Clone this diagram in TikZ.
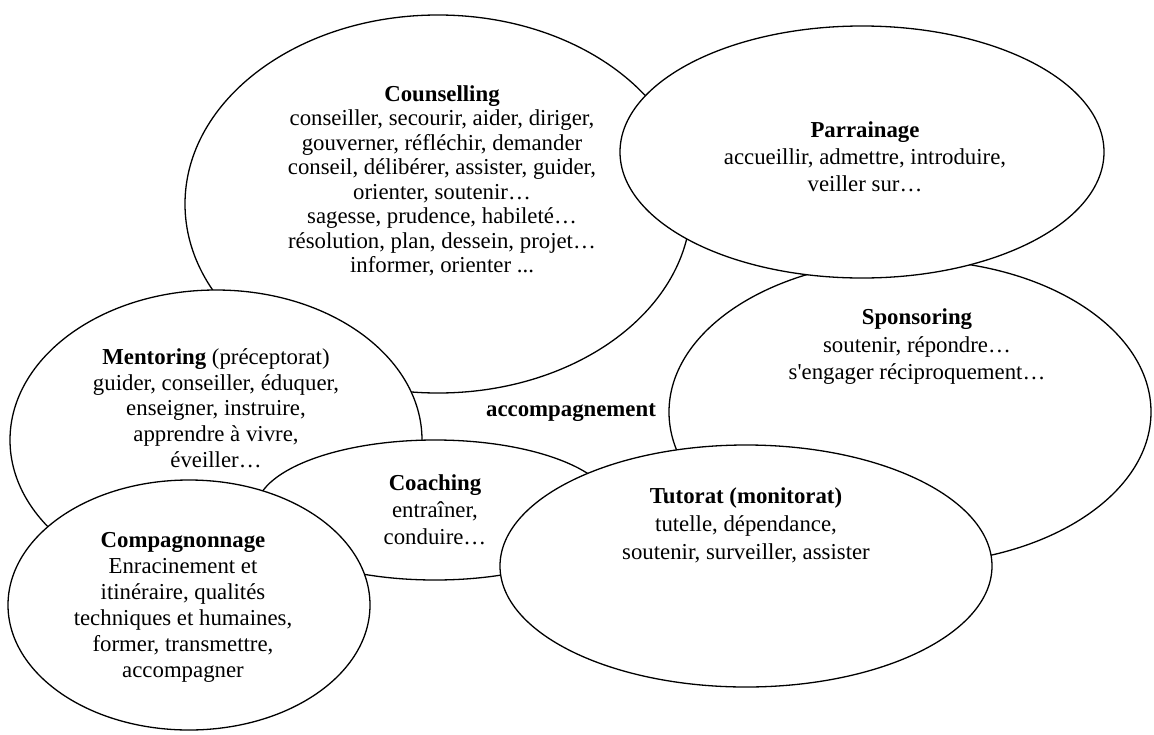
\documentclass[tikz,border=0pt]{standalone}
\usepackage{fontspec}
\setmainfont{Liberation Serif}
\usetikzlibrary{arrows, shapes}
\usetikzlibrary{positioning}

\begin{document}
\begin{tikzpicture}[x=1pt,y=-1pt,thick,main node/.style={ellipse,draw,fill=white,line width=1.3pt,inner sep=0pt},text node/.style={align=center,inner sep=0pt,font=\fontsize{22.8}{26}\selectfont}]
				\useasboundingbox (0,0) rectangle (1154,734);
				% Zonas de arriba
				\node[main node, minimum width=506pt, minimum height=378pt] (counselling) at (438,204) {};
				\node[text node, font=\fontsize{22.8}{24.5}\selectfont] (counselling text) at (442,181) {\textbf{Counselling}\\conseiller, secourir, aider, diriger,\\gouverner, réfléchir, demander\\conseil, délibérer, assister, guider,\\orienter, soutenir…\\sagesse, prudence, habileté…\\résolution, plan, dessein, projet…\\informer, orienter ...};
				\node[main node, minimum width=482pt, minimum height=304pt] (sponsoring) at (910,412) {};
				\node[text node, font=\fontsize{22.8}{27.5}\selectfont] (sponsoring text) at (917,347) {\textbf{Sponsoring}\\soutenir, répondre…\\s\textquotesingle engager réciproquement…};
				\node[main node, minimum width=484pt, minimum height=252pt] (parrainage) at (862,152) {};
				\node[text node, font=\fontsize{22.8}{27}\selectfont] (parrainage text) at (865,157) {\textbf{Parrainage}\\accueillir, admettre, introduire,\\veiller sur…};
				
				% Zonas de abajo
				\node[main node, minimum width=412pt, minimum height=300pt] (mentoring) at (216,440) {};
				\node[text node, font=\fontsize{22.8}{25.75}\selectfont] (mentoring text) at (216,408) {\textbf{Mentoring} (préceptorat)\\guider, conseiller, éduquer,\\enseigner, instruire,\\apprendre à vivre,\\éveiller…};
				\node[main node, minimum width=358pt, minimum height=140pt] (coaching) at (435,510) {};
				\node[text node, font=\fontsize{22.8}{27}\selectfont] (coaching text) at (435,510) {\textbf{Coaching}\\entraîner,\\conduire…};
				\node[main node, minimum width=492pt, minimum height=242pt] (tutorat) at (746,566) {};
				\node[text node, font=\fontsize{22.8}{28}\selectfont] (tutorat text) at (746,525) {\textbf{Tutorat (monitorat)}\\tutelle, dépendance,\\soutenir, surveiller, assister};
				\node[main node, minimum width=362pt, minimum height=250pt] (compagnonnage) at (189,605) {};
				\node[text node] (compagnonnage text) at (183,607) {\textbf{Compagnonnage}\\Enracinement et\\itinéraire, qualités\\techniques et humaines,\\former, transmettre,\\accompagner};
				
				% Centro
				\node[text node, font=\fontsize{22.8}{26}\selectfont\bfseries] (accompagnement) at (571,413) {accompagnement};
\end{tikzpicture}
\end{document}
